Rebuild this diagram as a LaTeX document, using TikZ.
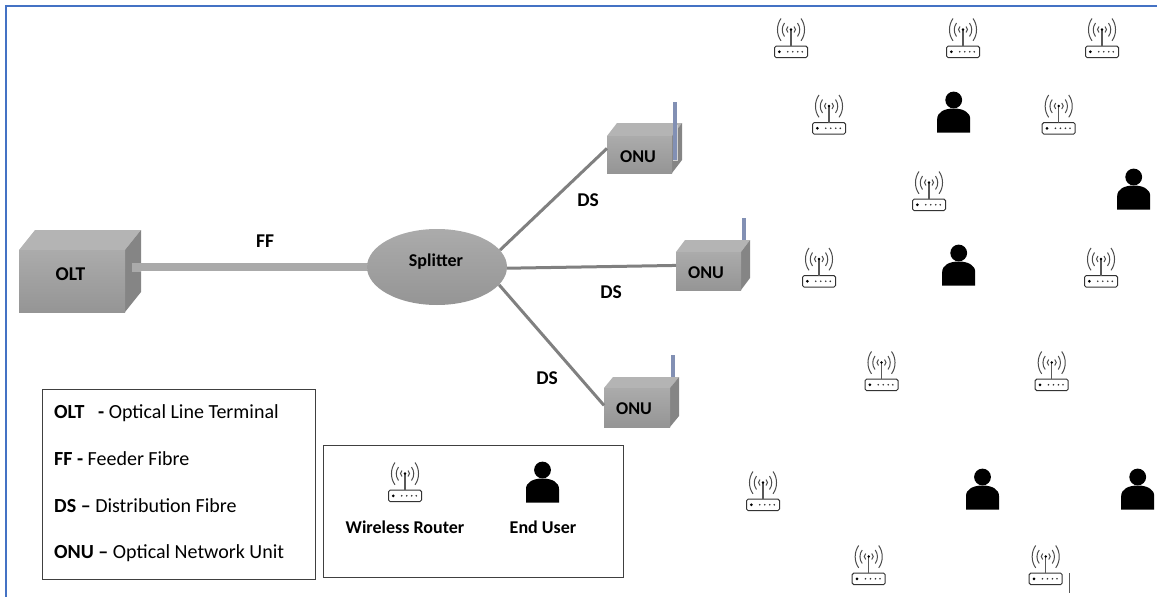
\documentclass[tikz,border=0pt]{standalone}
\usepackage{fontspec}
\setmainfont{Carlito}
\usetikzlibrary{shapes.geometric}

\definecolor{framecol}{HTML}{4472C4}
\definecolor{fibrecol}{HTML}{AAAAAA}
\definecolor{dropcol}{HTML}{808080}
\definecolor{antennacol}{HTML}{8290B4}
\definecolor{facetop}{HTML}{ABABAB}
\definecolor{facebot}{HTML}{959595}
\definecolor{lidcol}{HTML}{B4B4B4}
\definecolor{sidecol}{HTML}{858585}

\tikzset{
	cubeface/.style={draw=none, top color=facetop, bottom color=facebot, inner sep=0pt},
	lbl/.style={font=\bfseries\fontsize{18}{20}\selectfont, text=black, inner sep=0pt},
	lblbig/.style={font=\bfseries\fontsize{19.5}{22}\selectfont, text=black, inner sep=0pt},
	legendtxt/.style={font=\fontsize{20}{24}\selectfont, anchor=west, inner sep=0pt},
	legendbox/.style={draw=black!75, line width=1pt, anchor=north west, inner sep=0pt},
	pics/router/.style={code={
		\draw [black!80, line width=1pt, fill=white, rounded corners=1.5pt] (-16.5,8.2) rectangle (16.5,19.5);
		\draw [black!65, line width=1.2pt] (0,-8.5) -- (0,8.2);
		\fill [black] (0,-8.5) circle (1.4);
		\fill [black] (-11.7,13.8) circle (1.5);
		\foreach \ledx in {-3.3,1.7,6.7,11.3}
			\fill [black!80] (\ledx,13.8) circle (0.9);
		\foreach \side in {-1,1} {
			\draw [black!70, line width=1pt] (\side*3,-11.5) .. controls (\side*5,-10) and (\side*5,-7) .. (\side*3,-5.5);
			\draw [black!70, line width=1pt] (\side*6.5,-15) .. controls (\side*9.5,-11) and (\side*9.5,-5.5) .. (\side*6.5,-1.5);
			\draw [black!70, line width=1pt] (\side*10,-19.5) .. controls (\side*14.7,-13) and (\side*14.7,-3.5) .. (\side*10,2.8);
		}
	}},
	pics/enduser/.style={code={
		\fill [black] (0,-12) circle (8.4);
		\fill [black] (-16.5,20.5) -- (-16.5,7) .. controls (-16.5,0) and (-9,-3.5) .. (0,-3.5)
			.. controls (9,-3.5) and (16.5,0) .. (16.5,7) -- (16.5,20.5) -- cycle;
	}}
}

% name, left, top, width, height, depth x, depth y
\newcommand{\cubebox}[7]{
	\fill [lidcol] (#2,#3) -- ++(#6,-#7) -- ++(#4,0) -- ++(-#6,#7) -- cycle;
	\fill [sidecol] (#2+#4,#3) -- ++(#6,-#7) -- ++(0,#5) -- ++(-#6,#7) -- cycle;
	\node [cubeface, anchor=north west, minimum width=#4 pt, minimum height=#5 pt] (#1) at (#2,#3) {};
}

\begin{document}
\begin{tikzpicture}[x=1pt, y=-1pt]
	\useasboundingbox (0,0) rectangle (1157,597);
	% Rahmen
	\draw [framecol, line width=1.6pt] (6,597) -- (6,6) -- (1157,6);

	% Antennen hinter den Kasten
	\draw [antennacol, line width=4pt] (744,218) -- (744,242);
	\draw [antennacol, line width=4pt] (673,355) -- (673,379);

	% Kasten
	\cubebox{olt}{19}{250}{106}{62}{16}{20}
	\cubebox{onuA}{607}{136}{65}{37}{10}{13}
	\cubebox{onuB}{676}{252}{65}{38}{9}{12}
	\cubebox{onuC}{604}{388}{66}{39}{9}{11}

	% Antenne vor dem oberen Kasten
	\draw [gray!35, line width=1pt] (677.5,125) -- (677.5,160) -- (673,160);
	\draw [antennacol, line width=3.5pt] (675,102) -- (675,160);

	% Splitter
	\node [ellipse, cubeface, minimum width=140pt, minimum height=76pt] (splitter) at (437,267) {};

	% Linien
	\coordinate (oltport) at (132,267);
	\draw [fibrecol, line width=9pt] (oltport) -- ++(9,0);
	\draw [fibrecol, line width=8pt] (oltport) -- (splitter.west);
	\draw [dropcol, line width=3pt] (splitter.15) -- (onuA.169);
	\draw [dropcol, line width=3pt] (splitter.-1) -- (onuB.170);
	\draw [dropcol, line width=3pt] (splitter.-16) -- (onuC.176);

	% Labels
	\node [lblbig] (oltlbl) at (70.5,274) {OLT};
	\node [lbl] (splitterlbl) at (436,262) {Splitter};
	\node [lbl] (onuAlbl) at (638,157) {ONU};
	\node [lbl] (onuBlbl) at (706,273) {ONU};
	\node [lbl] (onuClbl) at (634,409) {ONU};
	\node [lblbig] (fflbl) at (265,241) {FF};
	\node [lblbig] (dsAlbl) at (588,200) {DS};
	\node [lblbig] (dsBlbl) at (611,292) {DS};
	\node [lblbig] (dsClbl) at (547,378) {DS};

	% Linker Kasten
	\node [legendbox, minimum width=273.5pt, minimum height=190pt] (legendA) at (41.5,389) {};
	\node [legendtxt] (oltkey) at (54,413) {\textbf{OLT\ \ \ -} Optical Line Terminal};
	\node [legendtxt] (ffkey) at (54,459) {\textbf{FF -} Feeder Fibre};
	\node [legendtxt] (dskey) at (54,506) {\textbf{DS --} Distribution Fibre};
	\node [legendtxt] (onukey) at (54,553) {\textbf{ONU --} Optical Network Unit};

	% Rechter Kasten
	\node [legendbox, minimum width=300pt, minimum height=132pt] (legendB) at (323,445) {};
	\pic (routerkey) at (405,482) {router};
	\pic (userkey) at (542.5,482) {enduser};
	\node [lbl] (routerlbl) at (405,527) {Wireless Router};
	\node [lbl] (userlbl) at (543,527) {End User};

	% Router
	\foreach \px/\py [count=\i] in {791/38, 963/38, 1102/38, 829/114.5, 1058.7/114.5, 929/191, 819/267.5, 1101/267.5, 881.5/371, 1051.7/371, 763/491, 868.7/565, 1045.7/565}
		\pic (router\i) at (\px,\py) {router};
	% Nutzer
	\foreach \px/\py [count=\i] in {953.7/112, 1133.7/189, 958.7/265, 982.5/489, 1137.7/489}
		\pic (user\i) at (\px,\py) {enduser};

	% Strich unten rechts
	\draw [black!65, line width=1pt] (1069.7,573) -- (1069.7,593);
\end{tikzpicture}
\end{document}
